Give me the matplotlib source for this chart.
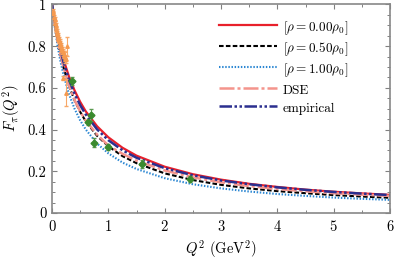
import numpy as np
import matplotlib
matplotlib.use("Agg")
import matplotlib.pyplot as plt
from matplotlib.ticker import MultipleLocator

plt.rcParams['font.family'] = ['cmr10', 'DejaVu Serif']
plt.rcParams['mathtext.fontset'] = 'cm'
plt.rcParams['axes.formatter.use_mathtext'] = True

# Q^2 grid (GeV^2) for the curves
q2 = [0, 0.05, 0.1, 0.15, 0.2, 0.3, 0.4, 0.5, 0.6, 0.8, 1.0, 1.25, 1.5,
      2, 2.5, 3, 3.5, 4, 4.5, 5, 5.5, 6]

f_rho000 = [1, 0.919, 0.851, 0.792, 0.740, 0.655, 0.588, 0.533, 0.487, 0.416,
            0.363, 0.313, 0.275, 0.222, 0.186, 0.160, 0.140, 0.125, 0.112,
            0.102, 0.094, 0.087]
f_rho050 = [1, 0.904, 0.825, 0.758, 0.701, 0.610, 0.540, 0.485, 0.439, 0.370,
            0.320, 0.273, 0.239, 0.190, 0.158, 0.135, 0.118, 0.105, 0.095,
            0.086, 0.079, 0.073]
f_rho100 = [1, 0.889, 0.800, 0.727, 0.667, 0.571, 0.500, 0.444, 0.400, 0.333,
            0.286, 0.242, 0.211, 0.167, 0.138, 0.118, 0.103, 0.091, 0.082,
            0.074, 0.068, 0.063]
f_dse = [1, 0.905, 0.826, 0.760, 0.703, 0.612, 0.542, 0.487, 0.443, 0.376,
         0.324, 0.284, 0.251, 0.204, 0.171, 0.147, 0.129, 0.115, 0.104,
         0.095, 0.088, 0.082]
f_emp = [1, 0.915, 0.843, 0.782, 0.728, 0.640, 0.572, 0.517, 0.472, 0.401,
         0.349, 0.301, 0.265, 0.215, 0.181, 0.156, 0.138, 0.123, 0.111,
         0.101, 0.093, 0.086]

# low-Q^2 data (orange)
q2_a = [0.015, 0.025, 0.035, 0.045, 0.055, 0.065, 0.075, 0.085, 0.095, 0.105,
        0.115, 0.125, 0.135, 0.145, 0.155, 0.165, 0.175, 0.185, 0.195, 0.205,
        0.215, 0.225, 0.235, 0.245, 0.20, 0.26, 0.24]
f_a = [0.97, 0.96, 0.94, 0.93, 0.91, 0.90, 0.88, 0.87, 0.86, 0.85,
       0.84, 0.83, 0.82, 0.81, 0.80, 0.79, 0.78, 0.78, 0.77, 0.76,
       0.76, 0.75, 0.74, 0.74, 0.646, 0.80, 0.577]
e_a = [0.01, 0.01, 0.01, 0.01, 0.01, 0.012, 0.012, 0.012, 0.013, 0.013,
       0.014, 0.014, 0.015, 0.015, 0.016, 0.016, 0.017, 0.017, 0.018, 0.018,
       0.019, 0.02, 0.02, 0.02, 0.01, 0.045, 0.065]

# higher-Q^2 data (green)
q2_b = [0.36, 0.63, 0.70, 0.75, 1.00, 1.60, 2.45]
f_b = [0.633, 0.435, 0.47, 0.337, 0.318, 0.235, 0.162]
e_b = [0.02, 0.012, 0.03, 0.022, 0.015, 0.02, 0.015]

fig = plt.figure(figsize=(3.94, 2.62), dpi=100)
ax = fig.add_axes([0.132, 0.187, 0.858, 0.796])

ax.plot(q2, f_rho000, color='#e8202b', lw=1.6, label=r'$[\rho = 0.00\rho_0]$')
ax.plot(q2, f_rho050, color='black', lw=1.5, dashes=[2.2, 1.1],
        label=r'$[\rho = 0.50\rho_0]$')
ax.plot(q2, f_rho100, color='#2a86d2', lw=1.5, dashes=[0.7, 0.8],
        label=r'$[\rho = 1.00\rho_0]$')
ax.plot(q2, f_dse, color='#f4948c', lw=1.8, dashes=[6, 1.2, 1.2, 1.2],
        label='DSE')
ax.plot(q2, f_emp, color='#2b2f8f', lw=1.8, dashes=[5, 1, 1, 1, 1, 1],
        label='empirical')

ax.errorbar(q2_a, f_a, yerr=e_a, fmt='^', ms=2.5, color='#f59a50',
            ecolor='#f7a868', elinewidth=0.8, capsize=1.5, zorder=3)
ax.errorbar(q2_b, f_b, yerr=e_b, fmt='D', ms=3.5, color='#3a8a2e',
            ecolor='#5a9a50', elinewidth=0.8, capsize=1.5, zorder=3)

ax.set_xlim(0, 6)
ax.set_ylim(0, 1)
ax.xaxis.set_major_locator(MultipleLocator(1))
ax.xaxis.set_minor_locator(MultipleLocator(0.5))
ax.yaxis.set_major_locator(MultipleLocator(0.2))
ax.yaxis.set_minor_locator(MultipleLocator(0.05))
ax.set_yticks([0, 0.2, 0.4, 0.6, 0.8, 1.0])
ax.set_yticklabels(['0', '0.2', '0.4', '0.6', '0.8', '1'])
ax.tick_params(which='both', direction='in', top=True, right=True,
               color='#808080', labelsize=10.5, pad=4)
ax.tick_params(which='major', length=3.5, width=0.8)
ax.tick_params(which='minor', length=2, width=0.7)
for s in ax.spines.values():
    s.set_color('#888888')
    s.set_linewidth(1.2)

ax.set_xlabel(r'$Q^2$ (GeV$^2$)', fontsize=10.5, labelpad=3)
ax.set_ylabel(r'$F_\pi(Q^2)$', fontsize=10.5, labelpad=4)

ax.legend(loc='upper left', bbox_to_anchor=(0.495, 0.93), frameon=False,
          fontsize=9.5, handlelength=4.4, handletextpad=0.4, labelspacing=0.22,
          handleheight=1.45, borderpad=0, borderaxespad=0)

plt.savefig('out.png', dpi=100)
